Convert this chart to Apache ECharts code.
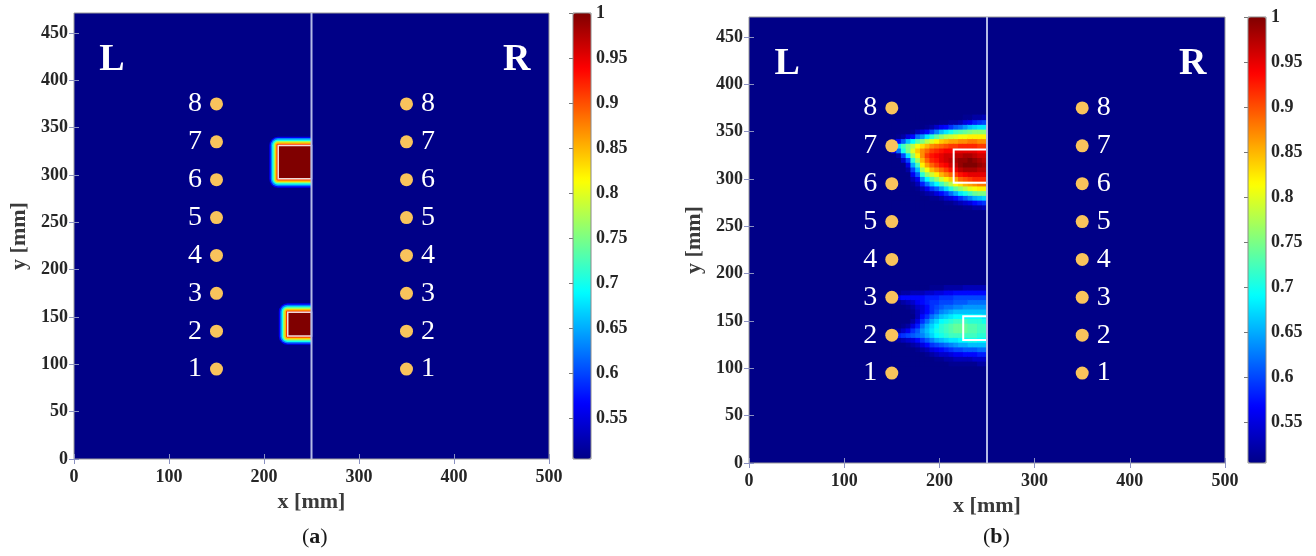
<!DOCTYPE html>
<html lang="en">

<head>
    <meta charset="UTF-8">
    <meta name="viewport" content="width=device-width, initial-scale=1.0">
    <title>concentration maps</title>
    <script src="https://cdn.jsdelivr.net/npm/echarts@6.0.0/dist/echarts.min.js"></script>
    <style>
        body,
        html {
            padding: 0;
            margin: 0;
            background: #fff;
        }

        #chart-panel {
            width: 1316px;
            height: 556px;
        }
    </style>
</head>

<body>
    <div id="chart-panel"></div>
    <script>
        var SERIF = "'Liberation Serif', 'Times New Roman', serif";

        // axis limits and ticks (mm)
        var xLimits = [0, 500];
        var yLimits = [0, 471];
        var xTicks = [0, 100, 200, 300, 400, 500];
        var yTicks = [0, 50, 100, 150, 200, 250, 300, 350, 400, 450];

        // colour scale
        var cbRange = [0.505, 1];
        var cbTicks = [0.55, 0.6, 0.65, 0.7, 0.75, 0.8, 0.85, 0.9, 0.95, 1];
        var jet = ['#000087', '#0000ff', '#0080ff', '#00ffff', '#80ff80',
            '#ffff00', '#ff8000', '#ff0000', '#800000'];

        // sensors
        var sensorNo = ['1', '2', '3', '4', '5', '6', '7', '8'];
        var sensorY = [95, 135, 175, 215, 255, 295, 335, 375];
        var leftSensorX = 150;
        var rightSensorX = 350;
        var dividerX = 250;
        var sideLabels = [['L', 40, 421], ['R', 466, 421]];

        // leak regions [x0, x1, y0, y1]
        var sourceRects = [[215, 250, 296, 331], [225, 250, 130, 155]];

        // (a) nested levels round each source [x0, x1, y0, y1, value, softness]
        var ringsA = [
            [206, 250, 287, 340, 0.56, 9],
            [207.5, 250, 288.5, 338.5, 0.63, 7.5],
            [209, 250, 290, 337, 0.70, 6],
            [210.5, 250, 291.5, 335.5, 0.77, 4.5],
            [212, 250, 293, 334, 0.84, 3],
            [213.5, 250, 294.5, 332.5, 0.91, 1.5],
            [215, 250, 296, 331, 1.0, 0],
            [216, 250, 121, 164, 0.56, 9],
            [217.5, 250, 122.5, 162.5, 0.63, 7.5],
            [219, 250, 124, 161, 0.70, 6],
            [220.5, 250, 125.5, 159.5, 0.77, 4.5],
            [222, 250, 127, 158, 0.84, 3],
            [223.5, 250, 128.5, 156.5, 0.91, 1.5],
            [225, 250, 130, 155, 1.0, 0]
        ];

        // (b) 5 mm cells, centres
        var plumeCols = [152.5, 157.5, 162.5, 167.5, 172.5, 177.5, 182.5, 187.5, 192.5, 197.5,
            202.5, 207.5, 212.5, 217.5, 222.5, 227.5, 232.5, 237.5, 242.5, 247.5];
        var upperRows = [270, 275, 280, 285, 290, 295, 300, 305, 310, 315,
            320, 325, 330, 335, 340, 345, 350, 355, 360, 365];
        var lowerRows = [105, 110, 115, 120, 125, 130, 135, 140, 145, 150,
            155, 160, 165, 170, 175, 180, 185];
        var cellHalf = 2.5;

        // one array per column, rows bottom -> top
        var upperPlume = [
            [0.505, 0.505, 0.505, 0.505, 0.505, 0.505, 0.505, 0.505, 0.505, 0.505, 0.505, 0.505, 0.56, 0.62, 0.53, 0.505, 0.505, 0.505, 0.505, 0.505],
            [0.505, 0.505, 0.505, 0.505, 0.505, 0.505, 0.505, 0.505, 0.505, 0.505, 0.505, 0.52, 0.62, 0.68, 0.57, 0.51, 0.505, 0.505, 0.505, 0.505],
            [0.505, 0.505, 0.505, 0.505, 0.505, 0.505, 0.505, 0.505, 0.505, 0.505, 0.54, 0.60, 0.70, 0.72, 0.61, 0.52, 0.505, 0.505, 0.505, 0.505],
            [0.505, 0.505, 0.505, 0.505, 0.505, 0.505, 0.505, 0.505, 0.52, 0.55, 0.60, 0.68, 0.75, 0.75, 0.66, 0.55, 0.505, 0.505, 0.505, 0.505],
            [0.505, 0.505, 0.505, 0.505, 0.505, 0.51, 0.53, 0.56, 0.60, 0.65, 0.71, 0.76, 0.80, 0.78, 0.69, 0.57, 0.51, 0.505, 0.505, 0.505],
            [0.505, 0.505, 0.505, 0.505, 0.51, 0.53, 0.56, 0.61, 0.66, 0.72, 0.77, 0.82, 0.84, 0.81, 0.73, 0.62, 0.53, 0.505, 0.505, 0.505],
            [0.505, 0.505, 0.505, 0.51, 0.53, 0.58, 0.64, 0.71, 0.77, 0.82, 0.85, 0.87, 0.87, 0.83, 0.75, 0.64, 0.55, 0.505, 0.505, 0.505],
            [0.505, 0.505, 0.505, 0.52, 0.56, 0.62, 0.69, 0.76, 0.81, 0.86, 0.89, 0.91, 0.89, 0.85, 0.78, 0.68, 0.57, 0.51, 0.505, 0.505],
            [0.505, 0.505, 0.51, 0.53, 0.59, 0.66, 0.73, 0.79, 0.85, 0.89, 0.92, 0.93, 0.91, 0.87, 0.80, 0.71, 0.60, 0.52, 0.505, 0.505],
            [0.505, 0.505, 0.51, 0.55, 0.61, 0.69, 0.76, 0.82, 0.87, 0.91, 0.93, 0.94, 0.92, 0.88, 0.82, 0.74, 0.63, 0.54, 0.505, 0.505],
            [0.505, 0.505, 0.52, 0.57, 0.64, 0.72, 0.79, 0.85, 0.89, 0.93, 0.95, 0.95, 0.93, 0.89, 0.84, 0.76, 0.66, 0.56, 0.51, 0.505],
            [0.505, 0.51, 0.54, 0.59, 0.67, 0.75, 0.82, 0.87, 0.91, 0.94, 0.96, 0.96, 0.94, 0.90, 0.85, 0.78, 0.68, 0.57, 0.51, 0.505],
            [0.505, 0.51, 0.55, 0.62, 0.71, 0.78, 0.84, 0.89, 0.93, 0.96, 0.97, 0.96, 0.94, 0.91, 0.86, 0.79, 0.70, 0.59, 0.52, 0.505],
            [0.505, 0.52, 0.57, 0.65, 0.74, 0.81, 0.86, 0.91, 0.95, 0.97, 0.98, 0.97, 0.95, 0.91, 0.86, 0.80, 0.72, 0.61, 0.52, 0.505],
            [0.505, 0.53, 0.59, 0.68, 0.76, 0.83, 0.89, 0.93, 0.97, 0.99, 0.99, 0.97, 0.95, 0.92, 0.87, 0.81, 0.73, 0.62, 0.53, 0.505],
            [0.51, 0.54, 0.61, 0.70, 0.78, 0.85, 0.90, 0.94, 0.98, 1.0, 0.99, 0.98, 0.95, 0.92, 0.87, 0.81, 0.74, 0.64, 0.55, 0.51],
            [0.51, 0.55, 0.63, 0.72, 0.80, 0.86, 0.91, 0.95, 0.98, 1.0, 1.0, 0.98, 0.95, 0.92, 0.88, 0.82, 0.75, 0.66, 0.56, 0.51],
            [0.52, 0.57, 0.65, 0.74, 0.81, 0.87, 0.92, 0.95, 0.98, 1.0, 0.99, 0.97, 0.95, 0.92, 0.88, 0.82, 0.76, 0.67, 0.58, 0.52],
            [0.52, 0.58, 0.66, 0.75, 0.82, 0.88, 0.92, 0.95, 0.97, 0.99, 0.98, 0.96, 0.94, 0.91, 0.87, 0.82, 0.76, 0.68, 0.59, 0.52],
            [0.53, 0.59, 0.67, 0.75, 0.82, 0.88, 0.92, 0.95, 0.97, 0.98, 0.97, 0.96, 0.94, 0.91, 0.87, 0.82, 0.76, 0.68, 0.60, 0.53]
        ];
        var lowerPlume = [
            [0.505, 0.505, 0.505, 0.505, 0.505, 0.51, 0.55, 0.51, 0.505, 0.505, 0.505, 0.505, 0.505, 0.51, 0.54, 0.51, 0.505],
            [0.505, 0.505, 0.505, 0.505, 0.505, 0.52, 0.58, 0.52, 0.505, 0.505, 0.505, 0.505, 0.505, 0.51, 0.56, 0.51, 0.505],
            [0.505, 0.505, 0.505, 0.505, 0.505, 0.53, 0.59, 0.54, 0.51, 0.505, 0.505, 0.505, 0.505, 0.52, 0.57, 0.52, 0.505],
            [0.505, 0.505, 0.505, 0.505, 0.51, 0.54, 0.60, 0.56, 0.52, 0.505, 0.505, 0.505, 0.51, 0.53, 0.57, 0.52, 0.505],
            [0.505, 0.505, 0.505, 0.505, 0.52, 0.55, 0.61, 0.59, 0.55, 0.52, 0.505, 0.51, 0.52, 0.54, 0.57, 0.53, 0.505],
            [0.505, 0.505, 0.505, 0.51, 0.53, 0.57, 0.62, 0.61, 0.58, 0.55, 0.53, 0.53, 0.54, 0.56, 0.57, 0.53, 0.505],
            [0.505, 0.505, 0.505, 0.52, 0.55, 0.59, 0.63, 0.64, 0.62, 0.59, 0.57, 0.55, 0.55, 0.57, 0.57, 0.53, 0.505],
            [0.505, 0.505, 0.51, 0.53, 0.57, 0.61, 0.65, 0.66, 0.65, 0.62, 0.59, 0.57, 0.57, 0.58, 0.58, 0.54, 0.505],
            [0.505, 0.505, 0.52, 0.55, 0.59, 0.63, 0.67, 0.68, 0.67, 0.65, 0.62, 0.59, 0.59, 0.59, 0.58, 0.54, 0.51],
            [0.505, 0.51, 0.53, 0.56, 0.60, 0.65, 0.69, 0.70, 0.69, 0.67, 0.64, 0.61, 0.60, 0.59, 0.58, 0.55, 0.51],
            [0.505, 0.51, 0.54, 0.57, 0.61, 0.66, 0.70, 0.71, 0.71, 0.69, 0.66, 0.63, 0.61, 0.60, 0.59, 0.55, 0.51],
            [0.505, 0.52, 0.54, 0.58, 0.62, 0.67, 0.71, 0.72, 0.72, 0.70, 0.67, 0.64, 0.62, 0.60, 0.59, 0.56, 0.52],
            [0.51, 0.52, 0.55, 0.59, 0.63, 0.68, 0.72, 0.73, 0.73, 0.71, 0.68, 0.65, 0.62, 0.60, 0.59, 0.56, 0.52],
            [0.51, 0.53, 0.56, 0.60, 0.64, 0.68, 0.72, 0.74, 0.74, 0.72, 0.69, 0.66, 0.63, 0.61, 0.60, 0.57, 0.52],
            [0.51, 0.53, 0.56, 0.60, 0.65, 0.69, 0.72, 0.74, 0.74, 0.72, 0.69, 0.66, 0.63, 0.61, 0.60, 0.57, 0.52],
            [0.51, 0.53, 0.57, 0.61, 0.65, 0.69, 0.72, 0.74, 0.74, 0.72, 0.69, 0.66, 0.64, 0.61, 0.60, 0.57, 0.53],
            [0.51, 0.53, 0.57, 0.61, 0.66, 0.70, 0.72, 0.73, 0.73, 0.71, 0.69, 0.66, 0.64, 0.62, 0.60, 0.57, 0.53],
            [0.51, 0.54, 0.57, 0.61, 0.66, 0.70, 0.72, 0.73, 0.73, 0.71, 0.69, 0.66, 0.64, 0.62, 0.60, 0.57, 0.53],
            [0.52, 0.54, 0.58, 0.62, 0.66, 0.69, 0.71, 0.72, 0.72, 0.71, 0.69, 0.66, 0.64, 0.62, 0.60, 0.57, 0.53],
            [0.52, 0.54, 0.58, 0.62, 0.66, 0.69, 0.71, 0.72, 0.72, 0.70, 0.68, 0.66, 0.64, 0.62, 0.60, 0.57, 0.53]
        ];

        function toCells(cols, rows, values) {
            var out = [];
            cols.forEach(function (cx, i) {
                rows.forEach(function (cy, j) {
                    out.push([cx - cellHalf, cx + cellHalf, cy - cellHalf, cy + cellHalf, values[i][j]]);
                });
            });
            return out;
        }

        var cellsB = toCells(plumeCols, upperRows, upperPlume)
            .concat(toCells(plumeCols, lowerRows, lowerPlume));

        function renderCell(params, api) {
            var a = api.coord([api.value(0), api.value(3)]);
            var b = api.coord([api.value(1), api.value(2)]);
            var soft = api.value(5) || 0;
            var r = soft ? api.size([soft, 0])[0] : 0;
            return {
                type: 'rect',
                shape: { x: a[0] - 0.4, y: a[1] - 0.4, width: b[0] - a[0] + 0.8, height: b[1] - a[1] + 0.8, r: [r, 0, 0, r] },
                style: { fill: api.visual('color') }
            };
        }

        function outlineRenderer(width, opacity) {
            return function (params, api) {
                var a = api.coord([api.value(0), api.value(3)]);
                var b = api.coord([api.value(1), api.value(2)]);
                return {
                    type: 'rect',
                    shape: { x: a[0], y: a[1], width: b[0] - a[0], height: b[1] - a[1] },
                    style: { fill: 'none', stroke: '#ffffff', lineWidth: width, opacity: opacity }
                };
            };
        }

        // side letters L / R drawn as plain text at their data position
        function renderSideLabel(params, api) {
            var p = api.coord([api.value(1), api.value(2)]);
            return {
                type: 'text',
                x: p[0], y: p[1],
                style: {
                    text: sideLabels[params.dataIndex][0], fill: '#ffffff',
                    font: 'bold 38px ' + SERIF, align: 'center', verticalAlign: 'middle'
                }
            };
        }

        function sensorData(x, side) {
            return sensorY.map(function (y, i) {
                return { value: [x, y], name: sensorNo[i], label: { position: side } };
            });
        }

        var tickStyle = { show: true, inside: true, length: 5, lineStyle: { color: '#8a90c2', width: 1 } };
        var labelStyle = { fontFamily: SERIF, fontSize: 18, fontWeight: 'bold', color: '#262626' };
        var nameStyle = { fontFamily: SERIF, fontSize: 22, fontWeight: 'bold', color: '#3a3a3a' };

        function plotX(g) {
            return [{
                gridIndex: g, type: 'value', min: xLimits[0], max: xLimits[1], position: 'bottom',
                name: 'x [mm]', nameLocation: 'middle', nameGap: 31, nameTextStyle: nameStyle,
                axisLine: { show: false },
                axisTick: Object.assign({ customValues: xTicks }, tickStyle),
                axisLabel: Object.assign({ customValues: xTicks, margin: 9 }, labelStyle),
                splitLine: { show: false }
            }, {
                gridIndex: g, type: 'value', min: xLimits[0], max: xLimits[1], position: 'top',
                axisLine: { show: false },
                axisTick: Object.assign({ customValues: xTicks }, tickStyle),
                axisLabel: { show: false }, splitLine: { show: false }
            }];
        }

        function plotY(g) {
            return [{
                gridIndex: g, type: 'value', min: yLimits[0], max: yLimits[1], position: 'left',
                name: 'y [mm]', nameLocation: 'middle', nameGap: 44, nameTextStyle: nameStyle,
                axisLine: { show: false },
                axisTick: Object.assign({ customValues: yTicks }, tickStyle),
                axisLabel: Object.assign({ customValues: yTicks, margin: 6 }, labelStyle),
                splitLine: { show: false }
            }, {
                gridIndex: g, type: 'value', min: yLimits[0], max: yLimits[1], position: 'right',
                axisLine: { show: false },
                axisTick: Object.assign({ customValues: yTicks }, tickStyle),
                axisLabel: { show: false }, splitLine: { show: false }
            }];
        }

        function barAxes(g) {
            return {
                x: { gridIndex: g, type: 'value', show: false },
                y: {
                    gridIndex: g, type: 'value', min: cbRange[0], max: cbRange[1], position: 'right',
                    axisLine: { show: false },
                    axisTick: { show: true, inside: true, length: 4, customValues: cbTicks, lineStyle: { color: '#777' } },
                    axisLabel: Object.assign({ customValues: cbTicks, margin: 5 }, labelStyle),
                    splitLine: { show: false }
                }
            };
        }

        function plotSeries(axis, heatData, outlineWidth, outlineOpacity) {
            return [{
                type: 'custom', xAxisIndex: axis, yAxisIndex: axis, renderItem: renderCell,
                data: heatData, encode: { x: [0, 1], y: [2, 3] }, clip: true, silent: true, z: 2
            }, {
                type: 'custom', xAxisIndex: axis, yAxisIndex: axis, renderItem: outlineRenderer(outlineWidth, outlineOpacity),
                data: sourceRects, encode: { x: [0, 1], y: [2, 3] }, silent: true, z: 3
            }, {
                type: 'line', xAxisIndex: axis, yAxisIndex: axis, symbol: 'none', silent: true, z: 4,
                data: [[dividerX, yLimits[0]], [dividerX, yLimits[1]]],
                lineStyle: { color: '#b4bae6', width: 2 }
            }, {
                type: 'scatter', xAxisIndex: axis, yAxisIndex: axis, silent: true, z: 5,
                data: sensorData(leftSensorX, 'left').concat(sensorData(rightSensorX, 'right')),
                symbolSize: 13, itemStyle: { color: '#f9c35c', opacity: 1 },
                label: { show: true, formatter: '{b}', distance: 8, fontFamily: SERIF, fontSize: 28, color: '#ffffff' }
            }, {
                type: 'custom', xAxisIndex: axis, yAxisIndex: axis, silent: true, z: 5,
                renderItem: renderSideLabel,
                data: sideLabels.map(function (s, i) { return [i, s[1], s[2]]; }),
                encode: { x: 1, y: 2 }
            }];
        }

        var barA = barAxes(2), barB = barAxes(3);
        var capStyle = {
            fontFamily: SERIF, fontSize: 22, fontWeight: 'normal', color: '#1a1a1a',
            rich: { b: { fontFamily: SERIF, fontSize: 22, fontWeight: 'bold', color: '#1a1a1a' } }
        };

        var option = {
            backgroundColor: '#ffffff',
            animation: false,
            title: [
                { text: '({b|a})', left: 302, top: 526, padding: 0, textStyle: capStyle },
                { text: '({b|b})', left: 983, top: 526, padding: 0, textStyle: capStyle }
            ],
            grid: [
                { left: 74, top: 13, width: 475, height: 446, show: true, backgroundColor: '#000087', borderColor: '#9a9a9a', borderWidth: 1 },
                { left: 749, top: 17, width: 476, height: 446, show: true, backgroundColor: '#000087', borderColor: '#9a9a9a', borderWidth: 1 },
                { left: 573, top: 13, width: 18, height: 446, show: true, backgroundColor: 'transparent', borderColor: '#8a8a8a', borderWidth: 1, z: 10 },
                { left: 1248, top: 17, width: 18, height: 446, show: true, backgroundColor: 'transparent', borderColor: '#8a8a8a', borderWidth: 1, z: 10 }
            ],
            xAxis: plotX(0).concat(plotX(1)).concat([barA.x, barB.x]),
            yAxis: plotY(0).concat(plotY(1)).concat([barA.y, barB.y]),
            visualMap: [
                {
                    type: 'continuous', seriesIndex: 0, dimension: 4, min: cbRange[0], max: cbRange[1],
                    inRange: { color: jet }, left: 573, top: 13, itemWidth: 18, itemHeight: 446,
                    calculable: false, hoverLink: false, padding: 0
                },
                {
                    type: 'continuous', seriesIndex: 5, dimension: 4, min: cbRange[0], max: cbRange[1],
                    inRange: { color: jet }, left: 1248, top: 17, itemWidth: 18, itemHeight: 446,
                    calculable: false, hoverLink: false, padding: 0
                }
            ],
            series: plotSeries(0, ringsA, 1.5, 0.85).concat(plotSeries(2, cellsB, 2, 1))
        };

        var chartVM = echarts.init(document.getElementById('chart-panel'));
        chartVM.setOption(option);
    </script>
</body>

</html>
